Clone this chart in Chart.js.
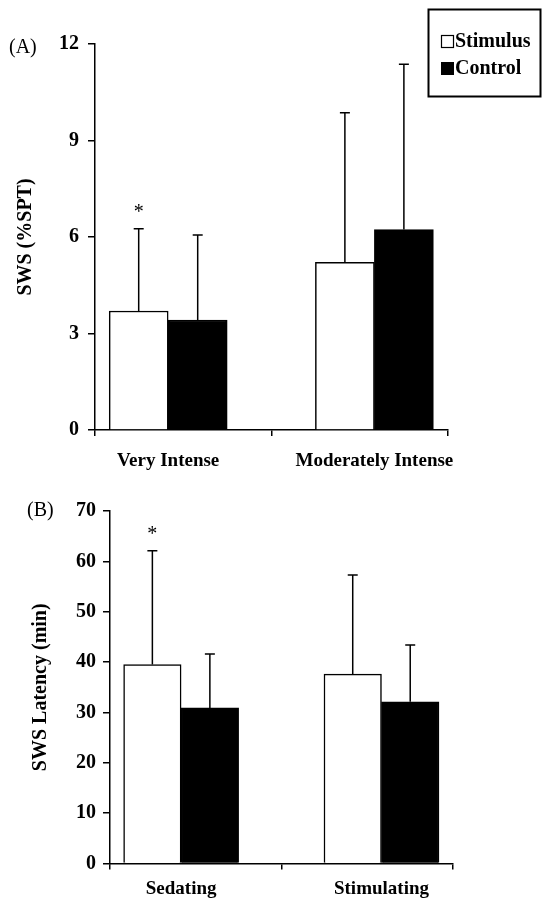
<!DOCTYPE html>
<html>
<head>
<meta charset="utf-8">
<script src="https://cdn.jsdelivr.net/npm/chart.js@4.4.1/dist/chart.umd.min.js"></script>
<style>
  html, body { margin: 0; padding: 0; background: #fff; }
  .panel { position: absolute; left: 0; width: 544px; }
  #panelA { top: 0; height: 480px; }
  #panelB { top: 480px; height: 423px; }
</style>
</head>
<body>
<div class="panel" id="panelA"><canvas id="chartA" width="544" height="480"></canvas></div>
<div class="panel" id="panelB"><canvas id="chartB" width="544" height="423"></canvas></div>
<script>
// Panel A - SWS (%SPT) by intensity
const categoriesA = ['Very Intense', 'Moderately Intense'];
const stimulusA = [3.70, 5.21];
const stimulusSdA = [2.56, 4.65];
const controlA = [3.42, 6.23];
const controlSdA = [2.64, 5.14];
const starsA = [true, false];
const yTicksA = { min: 0, max: 12, step: 3 };

// Panel B - SWS latency by odour type
const categoriesB = ['Sedating', 'Stimulating'];
const stimulusB = [39.5, 37.6];
const stimulusSdB = [22.6, 19.7];
const controlB = [30.9, 32.1];
const controlSdB = [10.7, 11.3];
const starsB = [true, false];
const yTicksB = { min: 0, max: 70, step: 10 };

const seriesNames = ['Stimulus', 'Control'];

const SERIF = "'Liberation Serif', 'Times New Roman', serif";

// upper error bars + significance stars
const errorBarPlugin = {
    id: 'errorBars',
    afterDatasetsDraw(chart) {
        const ctx = chart.ctx;
        const yScale = chart.scales.y;
        const sds = chart.options.plugins.errorBars.sd;
        const stars = chart.options.plugins.errorBars.stars;
        ctx.save();
        ctx.strokeStyle = '#000';
        ctx.lineWidth = 1.5;
        chart.data.datasets.forEach((ds, i) => {
            const meta = chart.getDatasetMeta(i);
            meta.data.forEach((bar, j) => {
                const top = yScale.getPixelForValue(ds.data[j].y + sds[i][j]);
                ctx.beginPath();
                ctx.moveTo(bar.x, bar.y);
                ctx.lineTo(bar.x, top);
                ctx.moveTo(bar.x - 5, top);
                ctx.lineTo(bar.x + 5, top);
                ctx.stroke();
                if (i === 0 && stars[j]) {
                    ctx.fillStyle = '#000';
                    ctx.font = '20px ' + SERIF;
                    ctx.textAlign = 'center';
                    ctx.textBaseline = 'alphabetic';
                    ctx.fillText('*', bar.x, top - 11);
                }
            });
        });
        ctx.restore();
    }
};

// panel letter and boxed legend
const decorPlugin = {
    id: 'decor',
    afterDraw(chart) {
        const opts = chart.options.plugins.decor;
        const ctx = chart.ctx;
        ctx.save();
        ctx.fillStyle = '#000';
        ctx.font = '20px ' + SERIF;
        ctx.textAlign = 'left';
        ctx.textBaseline = 'alphabetic';
        ctx.fillText(opts.letter, opts.letterX, opts.letterY);
        if (opts.legend) {
            ctx.strokeStyle = '#000';
            ctx.lineWidth = 2;
            ctx.strokeRect(428.5, 9.5, 112, 87);
            ctx.font = 'bold 20px ' + SERIF;
            ctx.lineWidth = 1.2;
            ctx.strokeRect(441.5, 35.5, 12, 12);
            ctx.fillText(chart.data.datasets[0].label, 455, 47);
            ctx.fillRect(441, 62, 13, 13);
            ctx.fillText(chart.data.datasets[1].label, 455, 74);
        }
        ctx.restore();
    }
};

function makeChart(canvasId, cfg) {
    const xs = cfg.categories.map((c, i) => i + 1);
    const xMin = 0.645, xMax = 2.357;
    return new Chart(document.getElementById(canvasId).getContext('2d'), {
        type: 'bar',
        data: {
            datasets: [
                {
                    label: seriesNames[0],
                    data: xs.map((x, i) => ({ x: x, y: cfg.stimulus[i] })),
                    backgroundColor: '#fff',
                    borderColor: '#000',
                    borderWidth: 1.5,
                    barThickness: cfg.barWidth
                },
                {
                    label: seriesNames[1],
                    data: xs.map((x, i) => ({ x: x, y: cfg.control[i] })),
                    backgroundColor: '#000',
                    borderColor: '#000',
                    borderWidth: 1.5,
                    barThickness: cfg.barWidth
                }
            ]
        },
        options: {
            responsive: false,
            animation: false,
            events: [],
            layout: { padding: cfg.padding },
            plugins: {
                legend: { display: false },
                tooltip: { enabled: false },
                errorBars: { sd: [cfg.stimulusSd, cfg.controlSd], stars: cfg.stars },
                decor: cfg.decor
            },
            scales: {
                x: {
                    type: 'linear',
                    min: xMin,
                    max: xMax,
                    offset: false,
                    afterBuildTicks: scale => {
                        scale.ticks = [xMin, 1, 1.5, 2, xMax].map(v => ({ value: v }));
                    },
                    afterFit: scale => { scale.height = cfg.xAxisHeight; },
                    grid: {
                        offset: false,
                        drawOnChartArea: false,
                        tickLength: 6,
                        lineWidth: 1.5,
                        color: c => (c.tick && (c.tick.value === 1 || c.tick.value === 2)) ? 'rgba(0,0,0,0)' : '#000'
                    },
                    border: { color: '#000', width: 1.5 },
                    ticks: {
                        autoSkip: false,
                        maxRotation: 0,
                        padding: cfg.xLabelPad,
                        color: '#000',
                        font: { family: SERIF, size: 19, weight: 'bold' },
                        callback: v => (v === 1 || v === 2) ? cfg.categories[v - 1] : ''
                    }
                },
                y: {
                    min: cfg.yTicks.min,
                    max: cfg.yTicks.max,
                    afterFit: scale => { scale.width = cfg.yAxisWidth; },
                    grid: { drawOnChartArea: false, tickLength: 7, lineWidth: 1.5, color: '#000' },
                    border: { color: '#000', width: 1.5 },
                    ticks: {
                        stepSize: cfg.yTicks.step,
                        padding: cfg.yLabelPad,
                        color: '#000',
                        font: { family: SERIF, size: 20, weight: 'bold' }
                    },
                    title: {
                        display: true,
                        text: cfg.yTitle,
                        color: '#000',
                        padding: { top: cfg.titlePad, bottom: 0 },
                        font: { family: SERIF, size: 20, weight: 'bold' }
                    }
                }
            }
        },
        plugins: [errorBarPlugin, decorPlugin]
    });
}

makeChart('chartA', {
    categories: categoriesA,
    stimulus: stimulusA, stimulusSd: stimulusSdA,
    control: controlA, controlSd: controlSdA,
    stars: starsA, yTicks: yTicksA,
    yTitle: 'SWS (%SPT)',
    barWidth: 59,
    padding: { top: 44, right: 96, left: 0, bottom: 0 },
    yAxisWidth: 95, xAxisHeight: 50, titlePad: 14,
    xLabelPad: 14, yLabelPad: 9,
    decor: { letter: '(A)', letterX: 9, letterY: 53, legend: true }
});

makeChart('chartB', {
    categories: categoriesB,
    stimulus: stimulusB, stimulusSd: stimulusSdB,
    control: controlB, controlSd: controlSdB,
    stars: starsB, yTicks: yTicksB,
    yTitle: 'SWS Latency (min)',
    barWidth: 57.5,
    padding: { top: 31, right: 91, left: 0, bottom: 0 },
    yAxisWidth: 110, xAxisHeight: 39.5, titlePad: 29,
    xLabelPad: 8, yLabelPad: 7,
    decor: { letter: '(B)', letterX: 27, letterY: 36, legend: false }
});
</script>
</body>
</html>
